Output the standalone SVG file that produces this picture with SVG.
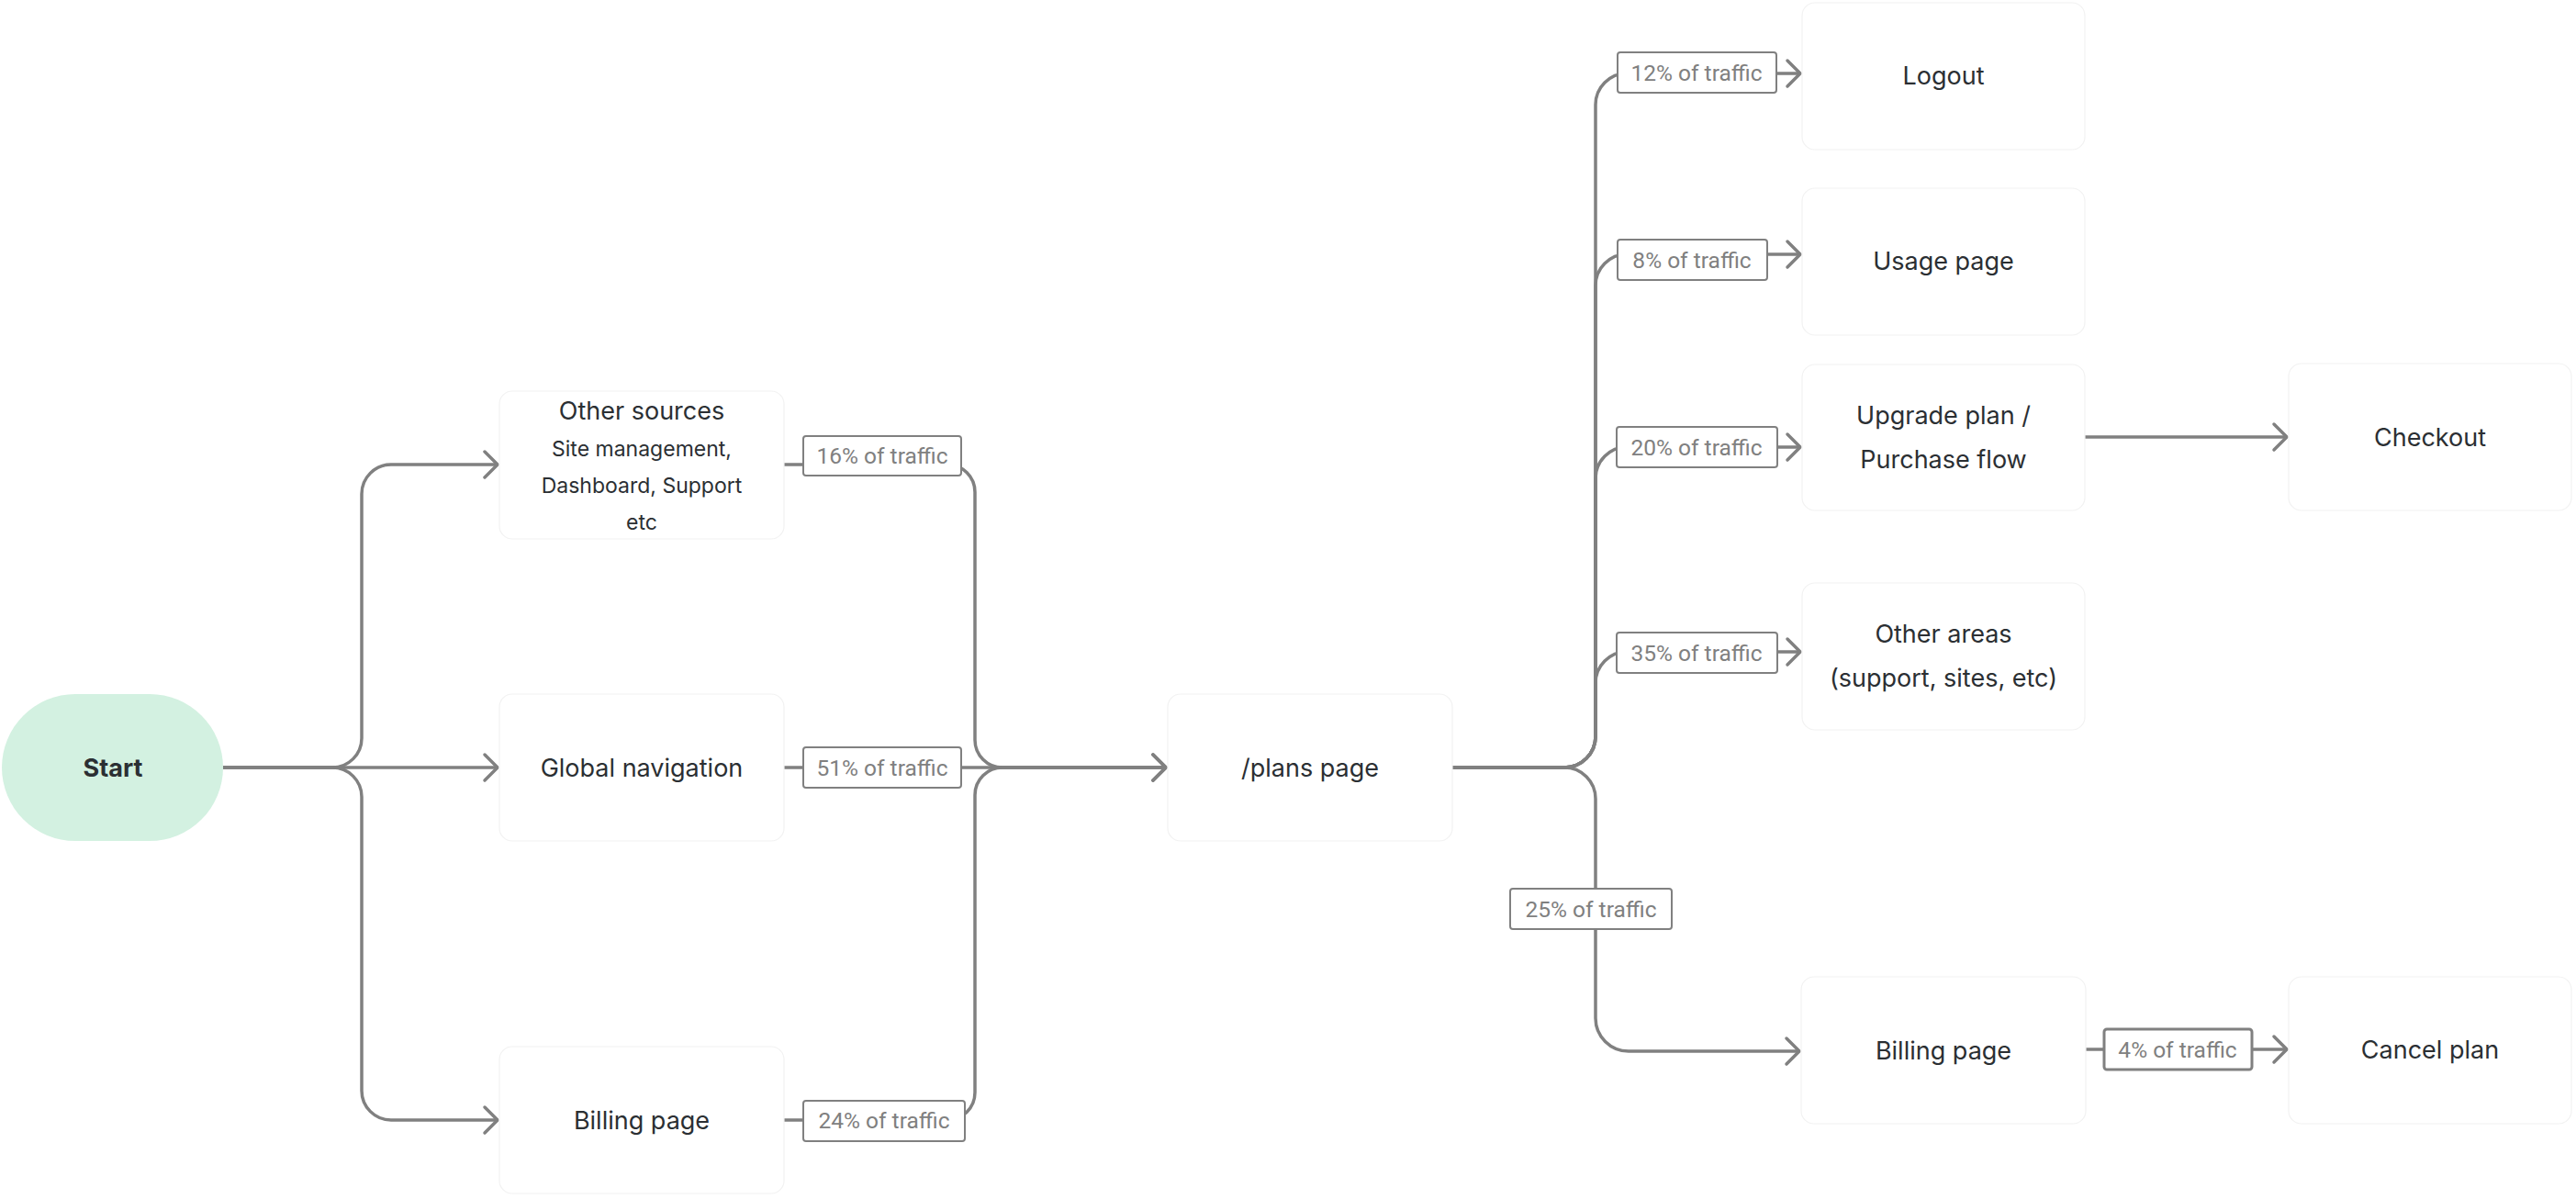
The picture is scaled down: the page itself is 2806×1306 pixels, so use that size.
<svg xmlns="http://www.w3.org/2000/svg" width="2806" height="1306" viewBox="0 0 2806 1306">
<style>
.node{fill:#ffffff;stroke:#f2f2f2;stroke-width:1.2}
.nt{font-family:Inter,"Noto Sans","Liberation Sans",sans-serif;font-size:27px;fill:#2b2f33;text-anchor:middle}
.st{font-size:23px}
.lb{fill:#ffffff;stroke:#808080;stroke-width:2}
.lt{font-family:Roboto,"Liberation Sans",sans-serif;font-size:24.5px;fill:#808080;text-anchor:middle}
.c{fill:none;stroke:#808080;stroke-width:3.5}
</style>
<defs>
<marker id="arr" markerWidth="24" markerHeight="36" refX="18" refY="18" orient="auto" markerUnits="userSpaceOnUse">
<path d="M4,4 L18,18 L4,32" fill="none" stroke="#808080" stroke-width="3.5" stroke-linecap="round" stroke-linejoin="round"/>
</marker>
</defs>
<rect width="2806" height="1306" fill="#ffffff"/>
<g id="connectors">
<path class="c" marker-end="url(#arr)" d="M243,836 H362 A32,32 0 0 0 394,804 V538 A32,32 0 0 1 426,506 H542"/>
<path class="c" marker-end="url(#arr)" d="M243,836 H542"/>
<path class="c" marker-end="url(#arr)" d="M243,836 H362 A32,32 0 0 1 394,868 V1188 A32,32 0 0 0 426,1220 H542"/>
<path class="c" marker-end="url(#arr)" d="M854,506 H1032 A30,30 0 0 1 1062,536 V806 A30,30 0 0 0 1092,836 H1270"/>
<path class="c" marker-end="url(#arr)" d="M854,836 H1270"/>
<path class="c" marker-end="url(#arr)" d="M854,1220 H1032 A30,30 0 0 0 1062,1190 V866 A30,30 0 0 1 1092,836 H1270"/>
<path class="c" marker-end="url(#arr)" d="M1582,836 H1704 A34,34 0 0 0 1738,802 V114 A34,34 0 0 1 1772,80 H1961"/>
<path class="c" marker-end="url(#arr)" d="M1582,836 H1704 A34,34 0 0 0 1738,802 V311 A34,34 0 0 1 1772,277 H1961"/>
<path class="c" marker-end="url(#arr)" d="M1582,836 H1704 A34,34 0 0 0 1738,802 V521 A34,34 0 0 1 1772,487 H1961"/>
<path class="c" marker-end="url(#arr)" d="M1582,836 H1704 A34,34 0 0 0 1738,802 V744 A34,34 0 0 1 1772,710 H1961"/>
<path class="c" marker-end="url(#arr)" d="M1582,836 H1704 A34,34 0 0 1 1738,870 V1109 A36,36 0 0 0 1774,1145 H1960"/>
<path class="c" marker-end="url(#arr)" d="M2271,476 H2491"/>
<path class="c" marker-end="url(#arr)" d="M2272,1143 H2491"/>
<g id="labels">
<rect class="lb" x="875" y="475" width="172" height="43" rx="3"/><text class="lt" x="961" y="505">16% of traffic</text>
<rect class="lb" x="875" y="814" width="172" height="44" rx="3"/><text class="lt" x="961" y="845">51% of traffic</text>
<rect class="lb" x="875" y="1199" width="176" height="44" rx="3"/><text class="lt" x="963" y="1229">24% of traffic</text>
<rect class="lb" x="1762" y="57" width="173" height="44" rx="3"/><text class="lt" x="1848" y="88">12% of traffic</text>
<rect class="lb" x="1762" y="261" width="163" height="44" rx="3"/><text class="lt" x="1843" y="292">8% of traffic</text>
<rect class="lb" x="1761" y="465" width="175" height="44" rx="3"/><text class="lt" x="1848" y="496">20% of traffic</text>
<rect class="lb" x="1761" y="689" width="175" height="44" rx="3"/><text class="lt" x="1848" y="720">35% of traffic</text>
<rect class="lb" x="1645" y="968" width="176" height="44" rx="3"/><text class="lt" x="1733" y="999">25% of traffic</text>
<rect class="lb" x="2292" y="1121" width="161" height="44" rx="3" style="stroke-width:3"/><text class="lt" x="2372" y="1152">4% of traffic</text>
</g>
</g>
<g id="start">
<rect x="2" y="756" width="241" height="160" rx="80" fill="#d3f1e1"/>
<text class="nt" x="123" y="846" style="font-weight:700">Start</text>
</g>
<g id="other-sources">
<rect class="node" x="544" y="426" width="310" height="161" rx="14"/>
<text class="nt" x="699" y="457">Other sources</text>
<text class="nt st" x="699" y="497">Site management,</text>
<text class="nt st" x="699" y="537">Dashboard, Support</text>
<text class="nt st" x="699" y="577">etc</text>
</g>
<g id="global-navigation">
<rect class="node" x="544" y="756" width="310" height="160" rx="14"/>
<text class="nt" x="699" y="846">Global navigation</text>
</g>
<g id="billing-page-left">
<rect class="node" x="544" y="1140" width="310" height="160" rx="14"/>
<text class="nt" x="699" y="1230">Billing page</text>
</g>
<g id="plans-page">
<rect class="node" x="1272" y="756" width="310" height="160" rx="14"/>
<text class="nt" x="1427" y="846">/plans page</text>
</g>
<g id="logout">
<rect class="node" x="1963" y="3" width="308" height="160" rx="14"/>
<text class="nt" x="2117" y="92">Logout</text>
</g>
<g id="usage-page">
<rect class="node" x="1963" y="205" width="308" height="160" rx="14"/>
<text class="nt" x="2117" y="294">Usage page</text>
</g>
<g id="upgrade-plan">
<rect class="node" x="1963" y="397" width="308" height="159" rx="14"/>
<text class="nt" x="2117" y="462">Upgrade plan /</text>
<text class="nt" x="2117" y="510">Purchase flow</text>
</g>
<g id="other-areas">
<rect class="node" x="1963" y="635" width="308" height="160" rx="14"/>
<text class="nt" x="2117" y="700">Other areas</text>
<text class="nt" x="2117" y="748">(support, sites, etc)</text>
</g>
<g id="billing-page-right">
<rect class="node" x="1962" y="1064" width="310" height="160" rx="14"/>
<text class="nt" x="2117" y="1154">Billing page</text>
</g>
<g id="checkout">
<rect class="node" x="2493" y="396" width="308" height="160" rx="14"/>
<text class="nt" x="2647" y="486">Checkout</text>
</g>
<g id="cancel-plan">
<rect class="node" x="2493" y="1064" width="308" height="160" rx="14"/>
<text class="nt" x="2647" y="1153">Cancel plan</text>
</g>
</svg>
